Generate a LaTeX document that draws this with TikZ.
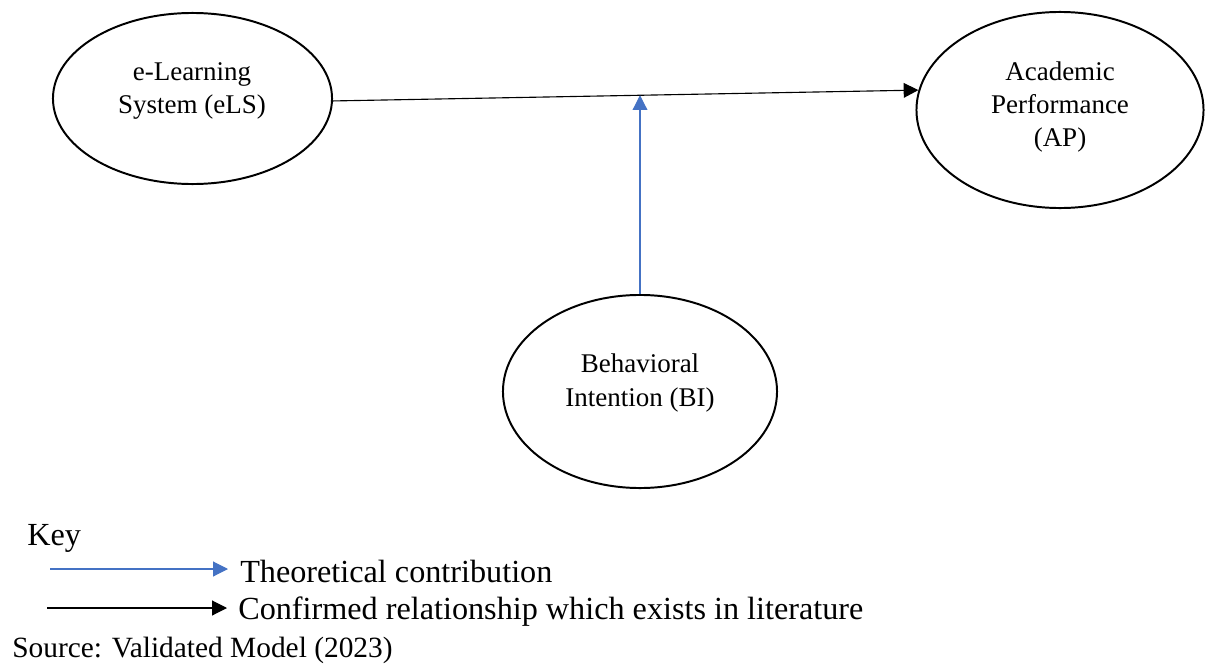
\documentclass[tikz,border=0pt]{standalone}
\usepackage{fontspec}
\setmainfont{Liberation Serif}
\usetikzlibrary{arrows.meta,shapes.geometric}
\definecolor{keyblue}{RGB}{68,114,196}

\begin{document}
\begin{tikzpicture}[x=0.025cm, y=-0.025cm, >={Triangle[length=10.5pt,width=10.5pt]},
  construct/.style={ellipse,draw,line width=1.4pt,inner sep=0pt},
  lbl/.style={align=center,inner sep=0pt,font=\fontsize{19.2}{23.5}\selectfont},
  keytext/.style={anchor=base west,inner sep=0pt,font=\fontsize{22.9}{26}\selectfont},
  link/.style={->,line width=0.8pt}]
\useasboundingbox (0,0) rectangle (1206,664);
\node[construct,minimum width=6.975cm,minimum height=4.275cm] (els) at (192.5,98.5) {};
\node[construct,minimum width=7.175cm,minimum height=4.9cm] (ap) at (1060,110) {};
\node[construct,minimum width=6.85cm,minimum height=4.825cm] (bi) at (640,391.5) {};
\node[lbl] (elstext) at (192,91) {e-Learning\\System (eLS)};
\node[lbl] (aptext) at (1060,107) {Academic\\Performance\\(AP)};
\node[lbl] (bitext) at (640,383) {Behavioral\\Intention (BI)};
\path (els.-1.4) -- (ap.172.75) coordinate[pos=0.527] (meet);
\draw[link] (els.-1.4) -- (ap.172.75);
\draw[link,keyblue] (bi.north) -- (bi.north |- meet);
\node[keytext] (key) at (27,545) {Key};
\coordinate (theostart) at (50,569);
\coordinate (theoend) at (228,569);
\draw[link,keyblue] (theostart) -- (theoend);
\node[keytext] (theo) at (240,582) {Theoretical contribution};
\coordinate (confstart) at (47,608);
\coordinate (confend) at (227,608);
\draw[link] (confstart) -- (confend);
\node[keytext] (conf) at (238,619) {Confirmed relationship which exists in literature};
\node[keytext,font=\fontsize{20.9}{24}\selectfont] (source) at (12,657) {Source: Validated Model (2023)};
\end{tikzpicture}
\end{document}
